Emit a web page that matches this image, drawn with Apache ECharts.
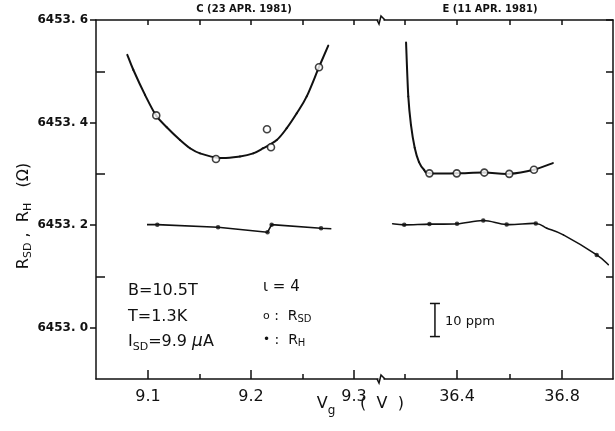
<!DOCTYPE html>
<html>
<head>
<meta charset="utf-8">
<script src="https://cdn.jsdelivr.net/npm/echarts@6/dist/echarts.min.js"></script>
<style>
  html, body { margin: 0; padding: 0; background: #fff; }
  #chart { width: 615px; height: 431px; }
</style>
</head>
<body>
<div id="chart"></div>
<script>
// ---- Sample C (23 Apr 1981), gate voltage near 9.2 V ----
const rsdLeftV = [9.108, 9.166, 9.2155, 9.2194, 9.266];
const rsdLeftR = [6453.414, 6453.329, 6453.387, 6453.352, 6453.508];
const fitLeftV = [9.0799, 9.0857, 9.0971, 9.1078, 9.1182, 9.1311, 9.1408, 9.1505, 9.1699, 9.1893, 9.2022, 9.2119, 9.2250, 9.2347, 9.2444, 9.2541, 9.2660, 9.2750];
const fitLeftR = [6453.532, 6453.503, 6453.454, 6453.414, 6453.391, 6453.366, 6453.350, 6453.340, 6453.331, 6453.334, 6453.340, 6453.350, 6453.366, 6453.389, 6453.418, 6453.451, 6453.508, 6453.550];
const rhLeftV = [9.109, 9.168, 9.216, 9.220, 9.268];
const rhLeftR = [6453.201, 6453.196, 6453.186, 6453.201, 6453.194];
const rhLeftLineV = [9.099, 9.109, 9.168, 9.216, 9.220, 9.268, 9.278];
const rhLeftLineR = [6453.201, 6453.201, 6453.196, 6453.186, 6453.201, 6453.194, 6453.193];

// ---- Sample E (11 Apr 1981), gate voltage near 36.5 V ----
const rsdRightV = [36.295, 36.399, 36.504, 36.599, 36.693];
const rsdRightR = [6453.301, 6453.301, 6453.3025, 6453.300, 6453.308];
const fitRightV = [36.206, 36.2145, 36.2248, 36.2389, 36.2552, 36.2743, 36.295, 36.399, 36.504, 36.599, 36.693, 36.765];
const fitRightR = [6453.556, 6453.451, 6453.395, 6453.351, 6453.323, 6453.308, 6453.301, 6453.301, 6453.3025, 6453.300, 6453.308, 6453.321];
const rhRightV = [36.199, 36.295, 36.400, 36.500, 36.589, 36.700, 36.932];
const rhRightR = [6453.2006, 6453.202, 6453.2026, 6453.209, 6453.2012, 6453.2032, 6453.142];
const rhRightLineV = [36.155, 36.199, 36.295, 36.400, 36.500, 36.589, 36.700, 36.742, 36.805, 36.932, 36.976];
const rhRightLineR = [6453.2026, 6453.2006, 6453.202, 6453.2026, 6453.209, 6453.2012, 6453.2032, 6453.194, 6453.181, 6453.142, 6453.123];

// ---- Axis ticks and labels ----
const yLabelTicks = [6453.0, 6453.2, 6453.4, 6453.6];
const yMinorTicks = [6453.1, 6453.3, 6453.5];
const yAllTicks = [6453.0, 6453.1, 6453.2, 6453.3, 6453.4, 6453.5, 6453.6];
const xLeftLabels = [9.1, 9.2, 9.3];
const xLeftMinor = [9.15, 9.25];
const xRightLabels = [36.4, 36.8];
const xRightMinor = [36.2, 36.6];

// 10 ppm scale bar
const scaleBarV = 36.316;
const scaleBarCenter = 6453.015;
const ppm10 = 6453.2 * 1e-5;

const W = 615, H = 431;
const TOP = 20, BOTTOM = 379;
const LEFT = 96, BREAK_L = 378, BREAK_R = 384, RIGHT = 613;
const INK = '#111';
const FONT = 'DejaVu Sans';

const chart = echarts.init(document.getElementById('chart'), null, { renderer: 'canvas' });

const zip = (a, b) => a.map((v, i) => [v, b[i]]);

// Smooth curve through the points (Catmull-Rom drawn as cubic Bezier segments)
function splineSeries(xs, ys, xAxisIndex, yAxisIndex, width) {
  return {
    type: 'custom', xAxisIndex, yAxisIndex, data: zip(xs, ys), z: 2, silent: true,
    renderItem: (params, api) => {
      if (params.dataIndex !== 0) return;
      const p = xs.map((x, i) => api.coord([x, ys[i]]));
      const n = p.length;
      const t = 1 / 6;
      const segs = [];
      for (let i = 0; i < n - 1; i++) {
        const p0 = p[Math.max(i - 1, 0)], p1 = p[i], p2 = p[i + 1], p3 = p[Math.min(i + 2, n - 1)];
        segs.push({
          type: 'bezierCurve',
          shape: {
            x1: p1[0], y1: p1[1], x2: p2[0], y2: p2[1],
            cpx1: p1[0] + (p2[0] - p0[0]) * t, cpy1: p1[1] + (p2[1] - p0[1]) * t,
            cpx2: p2[0] - (p3[0] - p1[0]) * t, cpy2: p2[1] - (p3[1] - p1[1]) * t
          },
          style: { stroke: INK, lineWidth: width, fill: null, lineCap: 'round' }
        });
      }
      return { type: 'group', children: segs };
    }
  };
}

function baseAxis(extra) {
  return Object.assign({
    type: 'value',
    splitLine: { show: false },
    axisLine: { show: true, onZero: false, lineStyle: { color: INK, width: 1.5 } },
    axisTick: { show: false },
    axisLabel: { show: false }
  }, extra);
}

const xLeft = { min: 9.0495, max: 9.3233 };
const xRight = { min: 36.122, max: 36.994 };
const yRange = { min: 6452.9, max: 6453.6 };

const xLabelStyle = { show: true, fontFamily: FONT, fontSize: 16, color: INK, margin: 10 };

const option = {
  animation: false,
  backgroundColor: '#fff',
  grid: [
    { left: LEFT, right: W - BREAK_L, top: TOP, bottom: H - BOTTOM, containLabel: false, outerBoundsMode: 'none' },
    { left: BREAK_R, right: W - RIGHT, top: TOP, bottom: H - BOTTOM, containLabel: false, outerBoundsMode: 'none' }
  ],
  xAxis: [
    baseAxis(Object.assign({ gridIndex: 0, position: 'bottom',
      axisTick: { show: true, inside: true, length: 9, customValues: xLeftLabels, lineStyle: { color: INK, width: 1.5 } },
      axisLabel: Object.assign({ customValues: xLeftLabels, formatter: v => v.toFixed(1) }, xLabelStyle) }, xLeft)),
    baseAxis(Object.assign({ gridIndex: 0, position: 'bottom', axisLine: { show: false },
      axisTick: { show: true, inside: true, length: 5, customValues: xLeftMinor, lineStyle: { color: INK, width: 1.5 } } }, xLeft)),
    baseAxis(Object.assign({ gridIndex: 0, position: 'top',
      axisTick: { show: true, inside: true, length: 5, customValues: xLeftLabels.concat(xLeftMinor), lineStyle: { color: INK, width: 1.5 } } }, xLeft)),
    baseAxis(Object.assign({ gridIndex: 1, position: 'bottom',
      axisTick: { show: true, inside: true, length: 9, customValues: xRightLabels, lineStyle: { color: INK, width: 1.5 } },
      axisLabel: Object.assign({ customValues: xRightLabels, formatter: v => v.toFixed(1) }, xLabelStyle) }, xRight)),
    baseAxis(Object.assign({ gridIndex: 1, position: 'bottom', axisLine: { show: false },
      axisTick: { show: true, inside: true, length: 5, customValues: xRightMinor, lineStyle: { color: INK, width: 1.5 } } }, xRight)),
    baseAxis(Object.assign({ gridIndex: 1, position: 'top',
      axisTick: { show: true, inside: true, length: 5, customValues: xRightLabels.concat(xRightMinor), lineStyle: { color: INK, width: 1.5 } } }, xRight))
  ],
  yAxis: [
    baseAxis(Object.assign({ gridIndex: 0, position: 'left',
      axisTick: { show: true, inside: false, length: 6, customValues: yLabelTicks, lineStyle: { color: INK, width: 1.5 } },
      axisLabel: { show: true, customValues: yLabelTicks, margin: 8, fontFamily: FONT, fontWeight: 'bold', fontSize: 12, color: INK,
        formatter: v => v.toFixed(1).replace('.', '. ') } }, yRange)),
    baseAxis(Object.assign({ gridIndex: 0, position: 'left', axisLine: { show: false },
      axisTick: { show: true, inside: true, length: 9, customValues: yMinorTicks, lineStyle: { color: INK, width: 1.5 } } }, yRange)),
    baseAxis(Object.assign({ gridIndex: 1, position: 'right',
      axisTick: { show: true, inside: true, length: 7, customValues: yAllTicks, lineStyle: { color: INK, width: 1.5 } } }, yRange))
  ],
  series: [
    splineSeries(fitLeftV, fitLeftR, 0, 0, 2),
    { type: 'scatter', xAxisIndex: 0, yAxisIndex: 0, data: zip(rsdLeftV, rsdLeftR), symbol: 'circle', symbolSize: 7,
      itemStyle: { color: '#fff', borderColor: INK, borderWidth: 1.6 }, z: 5 },
    { type: 'line', xAxisIndex: 0, yAxisIndex: 0, data: zip(rhLeftLineV, rhLeftLineR), showSymbol: false,
      lineStyle: { color: INK, width: 1.6 }, z: 2 },
    { type: 'scatter', xAxisIndex: 0, yAxisIndex: 0, data: zip(rhLeftV, rhLeftR), symbol: 'circle', symbolSize: 4.5,
      itemStyle: { color: INK }, z: 5 },

    splineSeries(fitRightV, fitRightR, 3, 2, 2),
    { type: 'scatter', xAxisIndex: 3, yAxisIndex: 2, data: zip(rsdRightV, rsdRightR), symbol: 'circle', symbolSize: 7,
      itemStyle: { color: '#fff', borderColor: INK, borderWidth: 1.6 }, z: 5 },
    splineSeries(rhRightLineV, rhRightLineR, 3, 2, 1.6),
    { type: 'scatter', xAxisIndex: 3, yAxisIndex: 2, data: zip(rhRightV, rhRightR), symbol: 'circle', symbolSize: 4.5,
      itemStyle: { color: INK }, z: 5 },

    { type: 'custom', xAxisIndex: 3, yAxisIndex: 2, data: [[scaleBarV, scaleBarCenter]], z: 5,
      renderItem: (params, api) => {
        const top = api.coord([api.value(0), api.value(1) + ppm10 / 2]);
        const bot = api.coord([api.value(0), api.value(1) - ppm10 / 2]);
        const s = { stroke: INK, lineWidth: 1.5 };
        return { type: 'group', children: [
          { type: 'line', shape: { x1: top[0], y1: top[1], x2: bot[0], y2: bot[1] }, style: s },
          { type: 'line', shape: { x1: top[0] - 5, y1: top[1], x2: top[0] + 5, y2: top[1] }, style: s },
          { type: 'line', shape: { x1: bot[0] - 5, y1: bot[1], x2: bot[0] + 5, y2: bot[1] }, style: s }
        ] };
      } }
  ],
  graphic: [
    // axis breaks on top and bottom frame lines
    { type: 'polyline', shape: { points: [[BREAK_L - 1, TOP], [BREAK_L + 1, TOP + 4], [BREAK_L + 3, TOP - 4], [BREAK_R + 1, TOP]] },
      style: { stroke: INK, lineWidth: 1.5, fill: null } },
    { type: 'polyline', shape: { points: [[BREAK_L - 1, BOTTOM], [BREAK_L + 1, BOTTOM + 4], [BREAK_L + 3, BOTTOM - 4], [BREAK_R + 1, BOTTOM]] },
      style: { stroke: INK, lineWidth: 1.5, fill: null } },

    // panel captions
    { type: 'text', x: 244, y: 9, style: { text: 'C (23 APR. 1981)', font: 'bold 10px "DejaVu Sans"', fill: INK, align: 'center', verticalAlign: 'middle' } },
    { type: 'text', x: 490, y: 9, style: { text: 'E (11 APR. 1981)', font: 'bold 10px "DejaVu Sans"', fill: INK, align: 'center', verticalAlign: 'middle' } },

    // y axis title
    { type: 'text', x: 24, y: 216, rotation: Math.PI / 2,
      style: { text: '{n|R}{s|SD}{n| ,  R}{s|H}{n|   (Ω)}', align: 'center', verticalAlign: 'middle', fill: INK,
        rich: { n: { fontFamily: FONT, fontSize: 16, fill: INK }, s: { fontFamily: FONT, fontSize: 11, fill: INK, padding: [8, 0, 0, 0] } } } },

    // x axis title
    { type: 'text', x: 326, y: 404,
      style: { text: '{n|V}{s|g}', align: 'center', verticalAlign: 'middle', fill: INK,
        rich: { n: { fontFamily: FONT, fontSize: 16, fill: INK }, s: { fontFamily: FONT, fontSize: 12, fill: INK, padding: [14, 0, 0, 0] } } } },
    { type: 'text', x: 382, y: 404, style: { text: '(  V  )', font: '16px "DejaVu Sans"', fill: INK, align: 'center', verticalAlign: 'middle' } },

    // measurement conditions
    { type: 'text', x: 128, y: 291, style: { text: 'B=10.5T', font: '16px "DejaVu Sans"', fill: INK, verticalAlign: 'middle' } },
    { type: 'text', x: 128, y: 317, style: { text: 'T=1.3K', font: '16px "DejaVu Sans"', fill: INK, verticalAlign: 'middle' } },
    { type: 'text', x: 128, y: 342,
      style: { text: '{n|I}{s|SD}{n|=9.9 }{m|μ}{n|A}', verticalAlign: 'middle', fill: INK,
        rich: { n: { fontFamily: FONT, fontSize: 16, fill: INK }, m: { fontFamily: FONT, fontSize: 17, fontStyle: 'italic', fill: INK },
          s: { fontFamily: FONT, fontSize: 11, fill: INK, padding: [10, 0, 0, 0] } } } },

    // legend
    { type: 'text', x: 263, y: 287, style: { text: 'ι = 4', font: '15px "DejaVu Sans"', fill: INK, verticalAlign: 'middle' } },
    { type: 'text', x: 263, y: 316,
      style: { text: '{o|o}{n| :  R}{s|SD}', verticalAlign: 'middle', fill: INK,
        rich: { o: { fontFamily: FONT, fontSize: 11, fill: INK }, n: { fontFamily: FONT, fontSize: 14, fill: INK },
          s: { fontFamily: FONT, fontSize: 10, fill: INK, padding: [7, 0, 0, 0] } } } },
    { type: 'text', x: 263, y: 340,
      style: { text: '{o|•}{n| :  R}{s|H}', verticalAlign: 'middle', fill: INK,
        rich: { o: { fontFamily: FONT, fontSize: 12, fill: INK }, n: { fontFamily: FONT, fontSize: 14, fill: INK },
          s: { fontFamily: FONT, fontSize: 10, fill: INK, padding: [7, 0, 0, 0] } } } },

    // scale bar caption
    { type: 'text', x: 445, y: 322, style: { text: '10 ppm', font: '13px "DejaVu Sans"', fill: INK, verticalAlign: 'middle' } }
  ]
};

chart.setOption(option);
</script>
</body>
</html>
